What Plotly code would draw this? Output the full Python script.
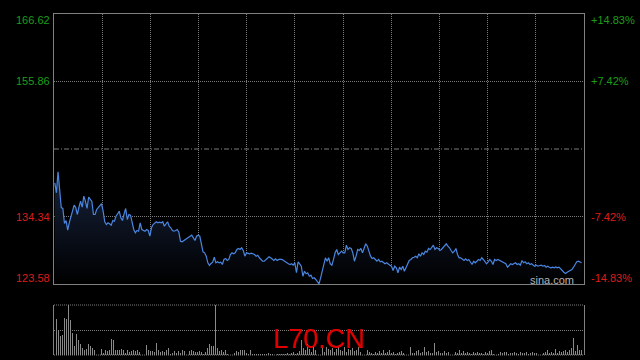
import plotly.graph_objects as go

# ---------------- data ----------------
prev_close = 145.10
axis_prices = [166.62, 155.86, 134.34, 123.58]
axis_pcts = ["+14.83%", "+7.42%", "-7.42%", "-14.83%"]

price_open = [
    139.71, 138.12, 141.47, 138.96, 135.77, 135.62, 133.22, 133.70, 132.16, 133.38,
    134.18, 134.98, 136.14, 135.77, 134.66, 135.82, 136.78, 135.82, 137.58, 136.78,
    135.62, 137.42, 137.05, 136.73, 134.66, 134.66, 135.46, 135.73, 135.98, 136.41,
    135.18, 133.50, 133.06, 133.34, 133.18, 132.95, 133.70, 133.59, 134.39, 134.77,
    135.18, 134.13, 133.70, 134.77, 135.62, 133.86, 134.66, 134.55, 133.34, 132.27,
    131.74, 132.11, 132.00, 133.34, 132.27, 132.11, 132.00, 132.27, 132.11, 131.20,
    132.54, 133.06, 133.34, 133.50, 133.34, 133.43, 133.34, 133.50, 132.79, 133.06,
    133.50, 132.79, 132.54, 132.11, 132.00, 132.11, 132.27, 131.84, 130.40, 130.31,
    130.51, 130.67, 130.94, 131.04, 131.20, 131.36, 130.94, 130.51, 131.20, 131.36,
    131.20, 129.88, 128.71, 128.55, 128.01, 126.96, 126.53, 126.85, 127.06, 127.85,
    126.96, 127.12, 126.96, 127.06, 126.69, 127.49, 127.65, 127.33, 127.49, 128.28,
    128.55,
]
price_mid = [
    128.39, 128.55, 129.08, 129.24, 129.08, 129.35, 128.92, 128.01, 128.55, 128.44,
    128.39, 128.49, 128.39, 128.28, 128.01, 128.17, 127.76, 127.49, 127.21, 127.21,
    127.49, 127.76, 127.92, 127.76, 127.49, 127.33, 127.60, 127.33, 127.49, 127.49,
    127.49, 127.33, 127.12, 126.96, 126.80, 126.69, 126.80, 126.58, 126.96, 125.37,
    127.12, 126.80, 126.42, 124.82, 125.62, 125.21, 125.37, 124.82, 124.98, 124.46,
    124.57, 124.30, 123.93, 123.60, 124.57, 125.62, 126.80, 127.76, 127.21, 127.76,
    126.80, 126.58, 127.49, 128.55, 129.08, 128.28, 128.55, 128.81, 128.55, 128.55,
    129.77, 129.08, 129.35, 129.24, 128.55, 127.21, 128.01, 129.08, 128.92, 129.24,
    128.55, 129.35, 129.99, 129.61, 128.81, 128.01, 127.65, 127.76, 127.49, 127.21,
    127.49, 127.12, 127.21, 126.96, 126.80, 126.96, 126.69, 126.58, 126.42, 125.73,
    126.42, 126.16, 125.37, 126.26, 125.89, 126.42, 125.62, 126.16, 126.69, 127.33,
    127.49,
]
price_late = [
    127.76, 127.85, 128.01, 127.76, 128.39, 128.01, 128.55, 128.28, 128.81, 128.65,
    129.24, 129.08, 129.45, 129.77, 129.08, 129.35, 129.24, 128.92, 129.08, 129.45,
    129.61, 129.99, 129.61, 129.35, 128.92, 128.55, 128.81, 129.24, 128.28, 127.76,
    127.76, 127.49, 127.33, 127.60, 127.33, 127.49, 126.96, 126.69, 127.21, 126.96,
    127.21, 127.49, 127.33, 127.76, 127.49, 127.21, 126.80, 127.12, 127.49, 127.21,
    126.69, 127.49, 127.33, 127.49, 127.33, 127.21, 127.12, 126.96, 126.80, 126.26,
    126.58, 126.80, 126.69, 126.80, 126.96, 126.69, 126.80, 126.58, 127.33, 126.96,
    127.12, 126.80, 126.96, 126.69, 126.80, 126.58, 126.42, 126.58, 126.42, 126.53,
    126.58, 126.42, 126.53, 126.26, 126.42, 126.26, 126.16, 126.26, 126.16, 126.31,
    126.16, 126.26, 126.05, 125.73, 125.46, 125.26, 125.46, 125.62, 125.73, 125.89,
    126.26, 126.69, 127.12, 127.21, 127.12, 126.96,
]

volume_am = [
    86, 109, 76, 56, 59, 112, 107, 149, 106, 66,
    26, 62, 46, 32, 22, 16, 19, 34, 26, 22,
    16, 4, 19, 12, 19, 7, 14, 12, 16, 47,
    44, 16, 14, 16, 19, 14, 6, 16, 9, 12,
    16, 12, 14, 9, 32, 32, 14, 29, 14, 12,
    12, 9, 37, 16, 9, 11, 9, 14, 22, 4,
    6, 12, 6, 12, 6, 16, 11, 46, 37, 12,
    14, 12, 8, 9, 12, 9, 4, 9, 22, 34,
    26, 26, 150, 22, 12, 16, 9, 16, 4, 16,
    9, 9, 6, 11, 9, 14, 16, 16, 6, 4,
    14, 2, 2, 2, 2, 2, 4, 2, 4, 6,
    2, 4, 6, 4, 2, 4, 2, 4,
]
volume_pm = [
    4, 6, 3, 5, 8, 4, 6,
    12, 44, 20, 15, 34, 18, 10, 24, 14, 28, 16, 12, 20, 9, 25, 18, 14, 22, 10,
    19, 26, 15, 12, 24, 8, 18, 14, 22, 11, 16, 24, 9, 14, 20, 12, 16, 10,
    6, 4, 8, 6, 12, 5, 16, 7, 10, 14, 5, 8, 4, 6, 9, 12, 5,
    12, 6, 9, 24, 7, 5, 12, 16, 6, 9, 24, 8, 11, 6, 5, 36, 8, 12, 5, 7,
    12, 6, 10, 8, 14, 5, 9, 6, 16, 7, 12, 5, 9, 6, 4, 8, 6, 10, 5, 7,
    4, 8, 5, 11, 16, 4, 8, 6, 4, 9,
    6, 8, 10, 4, 7, 5, 8, 6, 4, 9, 6, 5, 8, 4, 7, 10, 6, 5, 8, 12,
    4, 6, 9, 14, 5, 8, 6, 19, 7, 11,
    9, 12, 16, 10, 14, 20, 51, 12, 31, 14, 16, 12,
]

price = price_open + price_mid + price_late
volume = volume_am + volume_pm
N = len(price)
M = len(volume)

# ---------------- figure ----------------
W, H = 640, 360
FONT = "Liberation Sans, Arial, sans-serif"
GRID = "#7c7c7c"
FRAME = "#808080"
GREEN = "#1a9e1a"
RED = "#dd1c1c"

fig = go.Figure()
fig.add_trace(go.Scatter(
    x=list(range(N)), y=price, mode="lines",
    line=dict(color="#4a86e0", width=1.2),
    fill="tozeroy",
    fillgradient=dict(type="vertical",
                      colorscale=[[0, "rgb(0,0,0)"], [1, "rgb(22,34,60)"]],
                      start=axis_prices[-1], stop=max(price)),
    hoverinfo="skip", xaxis="x", yaxis="y",
))
fig.add_trace(go.Bar(
    x=list(range(M)), y=volume, width=0.45,
    marker=dict(color="#8a8a8a", line=dict(width=0)),
    hoverinfo="skip", xaxis="x2", yaxis="y2",
))

xr = [-0.5, N + 0.5]
span = xr[1] - xr[0]
vgrid = [xr[0] + span * k / 11 for k in range(1, 11)]

x_dom = [54 / W, 584 / W]
fig.update_layout(
    width=W, height=H, margin=dict(l=0, r=0, t=0, b=0),
    paper_bgcolor="black", plot_bgcolor="black", showlegend=False,
    bargap=0,
    xaxis=dict(domain=x_dom, range=xr, tickvals=vgrid, showgrid=True,
               gridcolor=GRID, griddash="1px,1px", gridwidth=1,
               showline=True, mirror=True, linecolor=FRAME, linewidth=1,
               showticklabels=False, zeroline=False, ticks="", anchor="y"),
    yaxis=dict(domain=[(H - 284) / H, (H - 14) / H],
               range=[axis_prices[-1], axis_prices[0]],
               tickvals=[axis_prices[1], axis_prices[2]], showgrid=True,
               gridcolor=GRID, griddash="1px,1px", gridwidth=1,
               showline=True, mirror=True, linecolor=FRAME, linewidth=1,
               showticklabels=False, zeroline=False, ticks="", anchor="x"),
    xaxis2=dict(domain=x_dom, range=[-0.5, M - 0.5], showgrid=False,
                showline=False, zeroline=False, showticklabels=False,
                ticks="", anchor="y2"),
    yaxis2=dict(domain=[(H - 355) / H, (H - 305) / H],
                range=[0, max(volume)],
                tickvals=[max(volume) / 2], showgrid=True,
                gridcolor=GRID, griddash="1px,1px", gridwidth=1,
                showline=True, mirror=True, linecolor=FRAME, linewidth=1,
                showticklabels=False, zeroline=False, ticks="", anchor="x2"),
)

# previous-close reference line
fig.add_shape(type="line", xref="x domain", x0=0, x1=1, yref="y",
              y0=prev_close, y1=prev_close,
              line=dict(color=GRID, width=1, dash="5px,2px,1px,2px"))
# dotted top / bottom edges of the volume panel
for yd in (0, 1):
    fig.add_shape(type="line", xref="x2 domain", x0=0, x1=1,
                  yref="y2 domain", y0=yd, y1=yd, layer="below",
                  line=dict(color=GRID, width=1, dash="1px,1px"))

shifts = [-6, 0, 0, 6]
for i, (p, pct) in enumerate(zip(axis_prices, axis_pcts)):
    col = GREEN if p > prev_close else RED
    fig.add_annotation(xref="paper", x=52 / W, xanchor="right",
                       yref="y", y=p, yanchor="middle", yshift=shifts[i],
                       text=f"{p:.2f}", showarrow=False,
                       font=dict(family=FONT, size=11, color=col))
    fig.add_annotation(xref="paper", x=589 / W, xanchor="left",
                       yref="y", y=p, yanchor="middle", yshift=shifts[i],
                       text=pct, showarrow=False,
                       font=dict(family=FONT, size=11, color=col))

fig.add_annotation(xref="paper", x=552 / W, yref="paper", y=1 - 279.5 / H,
                   xanchor="center", yanchor="middle", text="sina.com",
                   showarrow=False,
                   font=dict(family=FONT, size=11, color="#b4b4b4"))
fig.add_annotation(xref="paper", x=319 / W, yref="paper", y=1 - 339 / H,
                   xanchor="center", yanchor="middle", text="L70.CN",
                   showarrow=False,
                   font=dict(family=FONT, size=27, color="#e00000"))

fig.write_html(
    "out.html",
    config={"displayModeBar": False, "staticPlot": True},
    post_script="document.body.style.margin='0';"
                "document.body.style.background='black';"
                "document.body.style.overflow='hidden';",
)
